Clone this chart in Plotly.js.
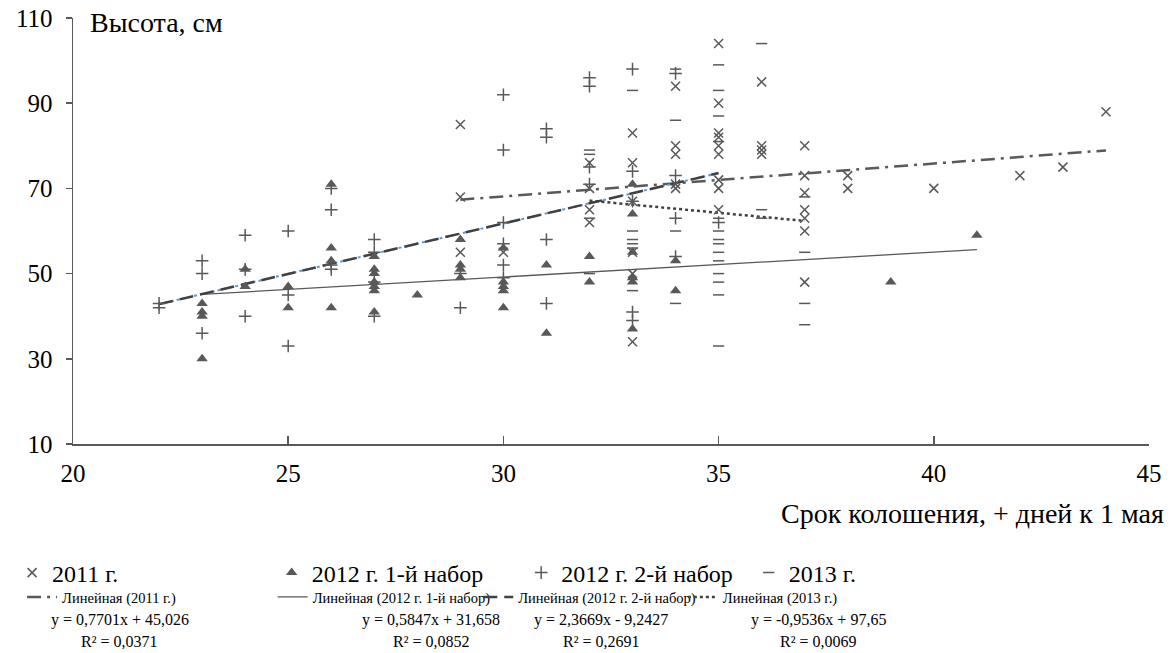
<!DOCTYPE html>
<html><head><meta charset="utf-8">
<script src="https://cdn.plot.ly/plotly-3.0.1.min.js"></script>
<style>html,body{margin:0;padding:0;background:#fff}</style>
</head><body><div id="chart" style="width:1172px;height:653px"></div>
<script>
// ---- data ----
const seriesNames = ["2011 г.", "2012 г. 1-й набор", "2012 г. 2-й набор", "2013 г."];
const trendNames = ["Линейная (2011 г.)", "Линейная (2012 г. 1-й набор)", "Линейная (2012 г. 2-й набор)", "Линейная (2013 г.)"];

const x2011 = [29,29,29,30,32,32,32,32,33,33,33,33,33,33,34,34,34,34,34,35,35,35,35,35,35,35,35,35,36,36,36,36,37,37,37,37,37,37,37,38,38,40,42,43,44];
const y2011 = [85,68,55,55,76,70,65,62,83,76,67,55,50,34,94,80,78,71,70,104,90,83,82,80,78,72,70,65,95,80,79,78,80,73,69,65,63,60,48,73,70,70,73,75,88];

const x2012a = [23,23,23,23,24,24,25,25,26,26,26,26,27,27,27,27,27,27,27,28,29,29,29,29,30,30,30,30,30,31,31,32,32,33,33,33,33,33,33,34,34,39,41];
const y2012a = [43,41,40,30,51,47,47,42,71,56,53,42,54,51,50,48,47,46,41,45,58,52,51,49,56,48,47,46,42,52,36,54,48,71,64,55,49,48,37,53,46,48,59];

const x2012b = [22,22,23,23,23,24,24,24,25,25,25,26,26,26,26,27,27,27,27,29,29,30,30,30,30,30,30,31,31,31,31,32,32,32,32,33,33,33,33,33,34,34,34,34,35];
const y2012b = [43,42,53,50,36,59,51,40,60,45,33,70,65,52,51,58,55,48,40,50,42,92,79,62,57,52,49,84,82,58,43,96,94,75,71,98,74,67,41,39,97,73,63,54,62];

const x2013 = [32,32,32,32,33,33,33,33,33,33,34,34,34,34,35,35,35,35,35,35,35,35,35,35,35,35,35,35,36,36,36,37,37,37,37];
const y2013 = [79,78,63,50,93,60,58,57,56,46,98,86,60,43,99,93,87,81,63,60,58,57,55,53,50,48,45,33,104,65,63,68,55,43,38];

const trendSlopes = [0.7701, 0.5847, 2.3669, -0.9536];
const trendIntercepts = [45.026, 31.658, -9.2427, 97.65];
const eqLabels = ["y = 0,7701x + 45,026", "y = 0,5847x + 31,658", "y = 2,3669x - 9,2427", "y = -0,9536x + 97,65"];
const r2Labels = ["R² = 0,0371", "R² = 0,0852", "R² = 0,2691", "R² = 0,0069"];

const xTicks = [20, 25, 30, 35, 40, 45];
const yTicks = [10, 30, 50, 70, 90, 110];
const yTitle = "Высота, см";
const xTitle = "Срок колошения, + дней к 1 мая";

// ---- chart ----
const FONT = 'Liberation Serif, Times New Roman, serif';
const GRAY = '#595959';
const DARK = '#404040';
const xs = [x2011, x2012a, x2012b, x2013];
const ys = [y2011, y2012a, y2012b, y2013];
const symbols = ['x-thin-open', 'triangle-up', 'cross-thin-open', 'line-ew-open'];
const sizes = [9, 10, 9, 8];
const legendIds = ['legend', 'legend2', 'legend3', 'legend4'];
const trendLegendIds = ['legend5', 'legend6', 'legend7', 'legend8'];
const trendStyles = [
  {color: GRAY, width: 2.5, dash: '14px,6px,3px,6px'},
  {color: GRAY, width: 1.3, dash: 'solid'},
  {color: DARK, width: 2.5, dash: '14px,7px'},
  {color: DARK, width: 2.5, dash: 'dot'}
];

const traces = [];
for (let i = 0; i < 4; i++) {
  const x0 = Math.min(...xs[i]), x1 = Math.max(...xs[i]);
  const tx = [x0, x1];
  const ty = tx.map(v => trendSlopes[i] * v + trendIntercepts[i]);
  if (i === 2) {
    traces.push({x: tx, y: ty, mode: 'lines', showlegend: false, hoverinfo: 'skip',
      line: {color: '#5b9bd5', width: 2, dash: 'dot'}});
  }
  traces.push({x: tx, y: ty, mode: 'lines', name: trendNames[i], legend: trendLegendIds[i],
    line: trendStyles[i]});
}
for (let i = 0; i < 4; i++) {
  traces.push({x: xs[i], y: ys[i], mode: 'markers', name: seriesNames[i], legend: legendIds[i],
    marker: {symbol: symbols[i], size: sizes[i], color: GRAY,
      line: {color: GRAY, width: i === 1 ? 0 : 1.5}}});
}

const L = 71, R = 23, T = 18, B = 209, W = 1172, H = 653;
const pw = W - L - R, ph = H - T - B;
const px2x = p => (p - L) / pw;
const py2y = p => (H - B - p) / ph;

function mkLegend(pxLeft, pyMid, size) {
  return {x: px2x(pxLeft), y: py2y(pyMid), xanchor: 'left', yanchor: 'middle',
    orientation: 'h', bgcolor: 'rgba(0,0,0,0)', borderwidth: 0,
    font: {family: FONT, size: size, color: '#000'}, itemwidth: 30, tracegroupgap: 0};
}
const row1 = 573, row2 = 597;
const layout = {
  width: W, height: H,
  margin: {l: L, r: R, t: T, b: B, pad: 0},
  paper_bgcolor: '#fff', plot_bgcolor: '#fff',
  font: {family: FONT, color: '#000'},
  xaxis: {range: [20, 45], tickvals: xTicks, ticktext: xTicks.map(String), showgrid: false, zeroline: false,
    showline: true, linecolor: GRAY, linewidth: 1.5, ticks: 'inside', ticklen: 8, tickcolor: GRAY, tickwidth: 1.5,
    tickfont: {family: FONT, size: 25, color: '#000'}, ticklabelstandoff: 6},
  yaxis: {range: [10, 110], tickvals: yTicks, ticktext: yTicks.map(String), showgrid: false, zeroline: false,
    showline: true, linecolor: GRAY, linewidth: 1.5, ticks: 'outside', ticklen: 6, tickcolor: GRAY, tickwidth: 1.5,
    tickfont: {family: FONT, size: 25, color: '#000'}, ticklabelstandoff: 8},
  legend: mkLegend(10, row1, 24),
  legend2: mkLegend(270, row1, 24),
  legend3: mkLegend(520, row1, 24),
  legend4: mkLegend(748, row1, 24),
  legend5: mkLegend(20, row2, 14.5),
  legend6: mkLegend(271, row2, 14.5),
  legend7: mkLegend(477, row2, 14.5),
  legend8: mkLegend(682, row2, 14.5),
  annotations: [
    {xref: 'paper', yref: 'paper', x: px2x(86), y: py2y(22), xanchor: 'left', yanchor: 'middle', showarrow: false,
      text: yTitle, font: {family: FONT, size: 28, color: '#000'}},
    {xref: 'paper', yref: 'paper', x: px2x(1166), y: py2y(513), xanchor: 'right', yanchor: 'middle', showarrow: false,
      text: xTitle, font: {family: FONT, size: 28, color: '#000'}}
  ]
};
const eqCenters = [118, 430, 600, 818];
for (let i = 0; i < 4; i++) {
  layout.annotations.push({xref: 'paper', yref: 'paper', x: px2x(eqCenters[i]), y: py2y(620), xanchor: 'center', yanchor: 'middle',
    showarrow: false, text: eqLabels[i], font: {family: FONT, size: 16, color: '#000'}});
  layout.annotations.push({xref: 'paper', yref: 'paper', x: px2x(eqCenters[i]), y: py2y(641), xanchor: 'center', yanchor: 'middle',
    showarrow: false, text: r2Labels[i], font: {family: FONT, size: 16, color: '#000'}});
}
Plotly.newPlot('chart', traces, layout, {displayModeBar: false, staticPlot: true});
</script>
</body></html>
